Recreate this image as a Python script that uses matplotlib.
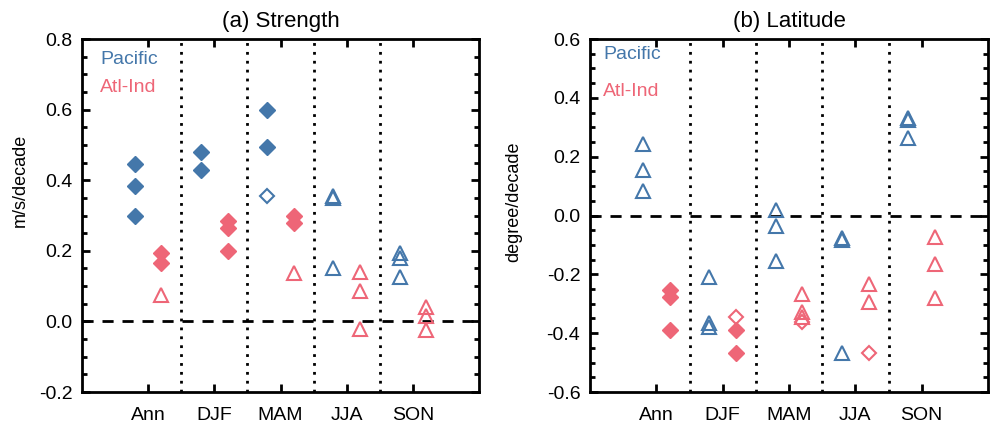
import numpy as np
import matplotlib.pyplot as plt
from matplotlib.ticker import MultipleLocator

plt.rcParams['font.family'] = ['Liberation Sans', 'DejaVu Sans']

seasons = ['Ann', 'DJF', 'MAM', 'JJA', 'SON']
blue = '#4477AA'
red = '#EE6677'

# (a) Strength, m/s/decade -- per season: filled diamonds, open diamonds, open triangles
str_pac_fill = [[0.445, 0.385, 0.30], [0.48, 0.43], [0.60, 0.495], [], []]
str_pac_open = [[], [], [0.355], [], []]
str_pac_tri = [[], [], [], [0.355, 0.35, 0.15], [0.195, 0.18, 0.125]]
str_atl_fill = [[0.195, 0.165], [0.284, 0.265, 0.20], [0.30, 0.278], [], []]
str_atl_open = [[], [], [], [], []]
str_atl_tri = [[0.075], [], [0.137], [0.139, 0.087, -0.021], [0.04, 0.015, -0.025]]

# (b) Latitude, degree/decade
lat_pac_fill = [[], [], [], [], []]
lat_pac_open = [[], [], [], [], []]
lat_pac_tri = [[0.243, 0.155, 0.082], [-0.209, -0.365, -0.379], [0.019, -0.037, -0.153],
               [-0.075, -0.082, -0.467], [0.333, 0.325, 0.262]]
lat_atl_fill = [[-0.254, -0.277, -0.388], [-0.388, -0.467], [], [], []]
lat_atl_open = [[], [-0.345], [-0.362], [-0.467], []]
lat_atl_tri = [[], [], [-0.266, -0.328, -0.345], [-0.234, -0.294], [-0.073, -0.164, -0.28]]


def draw(ax, fill, opn, tri, x_off, color):
    for i in range(len(seasons)):
        x = i + 1 + x_off
        if fill[i]:
            ax.plot([x] * len(fill[i]), fill[i], 'D', ms=8.5, color=color, mec=color)
        if opn[i]:
            ax.plot([x] * len(opn[i]), opn[i], 'D', ms=7.5, mfc='none', mec=color, mew=1.5)
        if tri[i]:
            ax.plot([x] * len(tri[i]), tri[i], '^', ms=10, mfc='none', mec=color, mew=1.5)


def style(ax, ylim, ylabel, title, ylab_xy, leg_x, leg_y):
    ax.set_xlim(0, 6)
    ax.set_ylim(*ylim)
    for xv in [1.5, 2.5, 3.5, 4.5]:
        ax.axvline(xv, color='black', ls=(0, (1, 2.2)), lw=2)
    ax.axhline(0, color='black', ls=(0, (4, 3.2)), lw=2)
    ax.set_xticks(range(1, 6))
    ax.set_xticklabels(seasons)
    ax.yaxis.set_major_locator(MultipleLocator(0.2))
    ax.yaxis.set_minor_locator(MultipleLocator(0.05))
    ax.yaxis.set_major_formatter(plt.FormatStrFormatter('%.1f'))
    ax.tick_params(axis='both', which='major', direction='in', length=6, width=2,
                   labelsize=14, top=True, right=True, pad=7)
    ax.tick_params(axis='y', which='minor', direction='in', length=3.5, width=2, right=True)
    ax.tick_params(axis='x', which='major', pad=11)
    for s in ax.spines.values():
        s.set_linewidth(2)
    ax.set_ylabel(ylabel, fontsize=13)
    ax.yaxis.set_label_coords(*ylab_xy)
    ax.set_title(title, fontsize=16, pad=9)
    ax.text(leg_x, leg_y[0], 'Pacific', color=blue, fontsize=14, transform=ax.transAxes, va='center')
    ax.text(leg_x, leg_y[1], 'Atl-Ind', color=red, fontsize=14, transform=ax.transAxes, va='center')


fig = plt.figure(figsize=(9.92, 4.25), dpi=100)
ax1 = fig.add_axes([0.0827, 0.0776, 0.4002, 0.8306])
ax2 = fig.add_axes([0.5948, 0.0776, 0.4012, 0.8306])

style(ax1, (-0.2, 0.8), 'm/s/decade', '(a) Strength', (-0.135, 0.6), 0.045, (0.943, 0.864))
style(ax2, (-0.6, 0.6), 'degree/decade', '(b) Latitude', (-0.17, 0.54), 0.033, (0.955, 0.852))

draw(ax1, str_pac_fill, str_pac_open, str_pac_tri, -0.2, blue)
draw(ax1, str_atl_fill, str_atl_open, str_atl_tri, 0.2, red)
draw(ax2, lat_pac_fill, lat_pac_open, lat_pac_tri, -0.2, blue)
draw(ax2, lat_atl_fill, lat_atl_open, lat_atl_tri, 0.2, red)

fig.savefig('out.png', dpi=100)
